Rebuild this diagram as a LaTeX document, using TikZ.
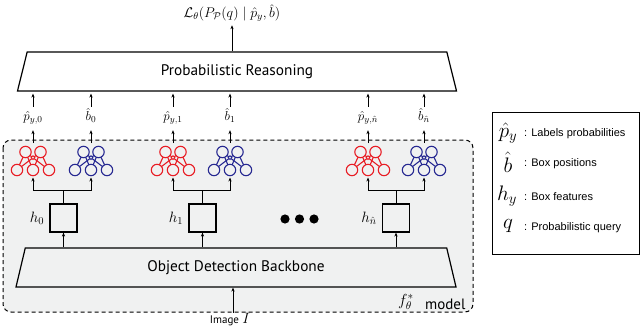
\RequirePackage{fix-cm}
\documentclass[tikz,border=0pt]{standalone}
\usepackage{fontspec}
\newfontfamily\ptsans{PT Sans}
\newfontfamily\arialf{Liberation Sans}
\usetikzlibrary{shapes.geometric,arrows.meta}
\definecolor{netred}{RGB}{232,28,36}
\definecolor{netblue}{RGB}{38,40,145}
\definecolor{bggray}{RGB}{240,241,241}
\tikzset{
  arr/.style={-{Stealth[length=4pt,width=3.2pt]}, line width=0.9pt},
  trap/.style={draw, line width=1.2pt, trapezium, trapezium stretches body,
    minimum height=39pt, font=\ptsans\fontsize{15.3}{17}\selectfont},
  hbox/.style={draw, line width=1.2pt, minimum width=27pt, minimum height=28pt, inner sep=0pt},
  lbl/.style={font=\fontsize{13}{14}\selectfont, text height=9pt, text depth=4pt, inner sep=0pt},
  hlbl/.style={font=\fontsize{15}{16}\selectfont, anchor=east, inner sep=1pt},
  legsym/.style={font=\fontsize{21}{22}\selectfont, inner sep=0pt},
  legtxt/.style={font=\arialf\fontsize{11}{12}\selectfont, anchor=west, inner sep=0pt},
  pics/nnet/.style={code={
    \foreach \a in {-7.5,7.5}{\foreach \b in {-16,0,16}{\draw[#1, line width=1.1pt] (\a,-8) -- (\b,10);}}
    \foreach \px/\py in {-7.5/-8,7.5/-8,-16/10,0/10,16/10}{\draw[#1, line width=1.1pt, fill=bggray] (\px,\py) circle[radius=5.7];}
    \draw[#1, line width=0.9pt, fill=bggray] (0,-2.3) circle[radius=1.9];
    \coordinate (-top) at (0,-17);
    \coordinate (-bot) at (0,17.5);
  }}
}
\begin{document}
\begin{tikzpicture}[x=1pt,y=-1pt]
\useasboundingbox (0,0) rectangle (640,329);
% model area
\draw[dash pattern=on 4pt off 3pt, line width=1pt, fill=bggray, rounded corners=8pt] (3,140) rectangle (473,312);

% top
\node[trap, fill=white, minimum width=439pt, trapezium angle=65] (pr) at (237,71.5) {Probabilistic Reasoning};
\node[font=\fontsize{14}{15}\selectfont] (loss) at (232,13) {$\mathcal{L}_\theta(P_{\mathcal{P}}(q)\mid \hat{p}_y,\hat{b})$};
\draw[arr] (pr.north -| loss) -- (loss.south);

% nets
\pic (r0) at (33,160) {nnet=netred};
\pic (b0) at (91,160) {nnet=netblue};
\pic (r1) at (173,160) {nnet=netred};
\pic (b1) at (230,160) {nnet=netblue};
\pic (rn) at (368,160) {nnet=netred};
\pic (bn) at (424,160) {nnet=netblue};

% labels
\node[lbl] (p0) at (33,118.5) {$\hat{p}_{y,0}$};
\node[lbl] (q0) at (91,118.5) {$\hat{b}_{0}$};
\node[lbl] (p1) at (173,118.5) {$\hat{p}_{y,1}$};
\node[lbl] (q1) at (230,118.5) {$\hat{b}_{1}$};
\node[lbl] (pn) at (368,118.5) {$\hat{p}_{y,\hat{n}}$};
\node[lbl] (qn) at (424,118.5) {$\hat{b}_{\hat{n}}$};
\foreach \n/\l in {r0/p0,b0/q0,r1/p1,b1/q1,rn/pn,bn/qn}{
  \draw[arr, shorten >=5pt] (\n-top) -- (\l.south);
  \draw[arr, shorten <=5pt, shorten >=2pt] (\l.north) -- (\l.north |- pr.south);
}

% backbone
\node[trap, minimum width=440pt, trapezium angle=66] (bb) at (236,267.5) {Object Detection Backbone};

% feature boxes
\node[hbox] (h0) at (63.5,218) {};
\node[hbox] (h1) at (202.5,218) {};
\node[hbox] (hn) at (396,218) {};
\node[hlbl] (h0l) at ([xshift=-4pt]h0.west) {$h_0$};
\node[hlbl] (h1l) at ([xshift=-4pt]h1.west) {$h_1$};
\node[hlbl] (hnl) at ([xshift=-4pt]hn.west) {$h_{\hat{n}}$};
\foreach \h/\r/\b in {h0/r0/b0,h1/r1/b1,hn/rn/bn}{
  \coordinate (\h f) at ([yshift=13pt]\h.north);
  \draw[line width=0.9pt] (\h.north) -- (\h f);
  \draw[arr] (\h f) -| (\r-bot);
  \draw[arr] (\h f) -| (\b-bot);
  \draw[arr] (\h |- bb.north) -- (\h.south);
}

% dots
\foreach \x [count=\i] in {285,299.5,314}{\fill (\x,219) circle[radius=4.6];}

% image input
\node[inner sep=1pt] (img) at (230,320) {{\ptsans\fontsize{11}{12}\selectfont Image} {\fontsize{15}{16}\selectfont$I$}};
\draw[arr] ([xshift=3pt]img.north) -- ([xshift=3pt]img.north |- bb.south);

% model label
\node[inner sep=0pt, font=\fontsize{16}{17}\selectfont] (fth) at (406,302) {$f_\theta^*$};
\node[anchor=west, inner sep=0pt, font=\ptsans\fontsize{15}{16}\selectfont] (mdl) at (425,304) {model};

% legend
\node[draw, line width=1.2pt, minimum width=147pt, minimum height=142pt, inner sep=0pt] (leg) at (566,183.5) {};
\node[legsym] (s1) at (508,133) {$\hat{p}_y$};
\node[legsym] (s2) at (508,162) {$\hat{b}$};
\node[legsym] (s3) at (507,196) {$h_y$};
\node[legsym] (s4) at (508,226) {$q$};
\node[legtxt] (t1) at (524,133.5) {: Labels probabilities};
\node[legtxt] (t2) at (524,163.5) {: Box positions};
\node[legtxt] (t3) at (524,197) {: Box features};
\node[legtxt] (t4) at (524,228) {: Probabilistic query};
\end{tikzpicture}
\end{document}
